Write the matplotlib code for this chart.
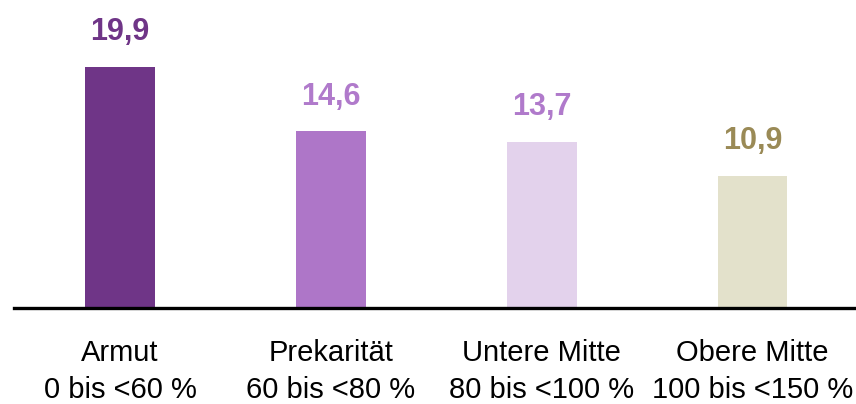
import matplotlib.pyplot as plt

# Daten
kategorien = ["Armut\n0 bis <60 %", "Prekarität\n60 bis <80 %",
              "Untere Mitte\n80 bis <100 %", "Obere Mitte\n100 bis <150 %"]
werte = [19.9, 14.6, 13.7, 10.9]
beschriftungen = ["19,9", "14,6", "13,7", "10,9"]

balkenfarben = ["#6f3587", "#ae76c8", "#e3d2ec", "#e3e1cb"]
textfarben = ["#6f3587", "#b07acb", "#b07acb", "#9a8a56"]

plt.rcParams['font.family'] = ['Liberation Sans', 'DejaVu Sans']

fig = plt.figure(figsize=(8.56, 4.04), dpi=100)
ax = fig.add_axes([14 / 856, 96 / 404, 842 / 856, 308 / 404])

x = range(len(werte))
ax.bar(x, werte, width=0.33, color=balkenfarben)

for xi, w, txt, c in zip(x, werte, beschriftungen, textfarben):
    ax.annotate(txt, (xi, w), xytext=(0, 19), textcoords='offset points',
                ha='center', va='baseline', fontsize=22, fontweight='bold',
                color=c)

ax.set_xlim(-0.503, 3.49)
ax.set_ylim(0, 25.4)
ax.set_xticks(list(x))
ax.set_xticklabels(kategorien, fontsize=21, linespacing=1.45)
ax.tick_params(axis='x', length=0, pad=22)
ax.set_yticks([])

for s in ['top', 'left', 'right']:
    ax.spines[s].set_visible(False)
ax.spines['bottom'].set_linewidth(2.4)
ax.spines['bottom'].set_color('black')

fig.savefig("out.png", dpi=100)
